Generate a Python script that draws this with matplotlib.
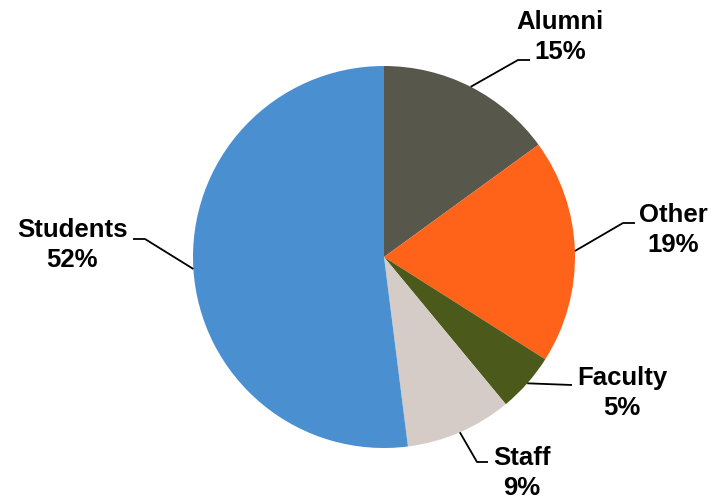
import numpy as np
import matplotlib
matplotlib.use("Agg")
import matplotlib.pyplot as plt

categories = ["Alumni", "Other", "Faculty", "Staff", "Students"]
shares = [15, 19, 5, 9, 52]
colors = ["#57574B", "#FF631A", "#4B5A1B", "#D5CCC8", "#4A8FD0"]

W, H = 713, 497
fig = plt.figure(figsize=(W / 100, H / 100), dpi=100)
ax = fig.add_axes([0, 0, 1, 1])
ax.set_xlim(0, W)
ax.set_ylim(H, 0)
ax.set_aspect("equal")
ax.axis("off")

cx, cy, r = 384, 257, 191
# y axis inverted: counterclock=True on an inverted axis renders clockwise
wedges, _ = ax.pie(shares, colors=colors, startangle=-90, counterclock=True,
                   center=(cx, cy), radius=r, frame=True,
                   wedgeprops=dict(linewidth=0))
ax.set_xlim(0, W)
ax.set_ylim(H, 0)
ax.axis("off")

# label layout: (text center x, first line y), elbow point, end point
layout = {
    "Alumni":   ((560, 22), (518, 60), (530, 60)),
    "Other":    ((673, 215), (623, 223), (635, 223)),
    "Faculty":  ((622, 378), (560, 386), (572, 385)),
    "Staff":    ((522, 458), (477, 462), (488, 462)),
    "Students": ((72, 230), (145, 239), (133, 239)),
}

cum = 0
for cat, val in zip(categories, shares):
    mid = (cum + val / 2) / 100 * 2 * np.pi
    cum += val
    px = cx + r * np.sin(mid)
    py = cy - r * np.cos(mid)
    (tx, ty), (ex, ey), (fx, fy) = layout[cat]
    if cat == "Faculty":
        ax.plot([px, fx], [py, fy], color="black", lw=1.3, solid_capstyle="butt")
    else:
        ax.plot([px, ex, fx], [py, ey, fy], color="black", lw=1.3, solid_capstyle="butt")
    ax.text(tx, ty, cat, ha="center", va="center", fontsize=18.5,
            fontweight="bold", family="Liberation Sans")
    ax.text(tx, ty + 30, f"{val}%", ha="center", va="center", fontsize=18.5,
            fontweight="bold", family="Liberation Sans")

fig.savefig("out.png", dpi=100)
